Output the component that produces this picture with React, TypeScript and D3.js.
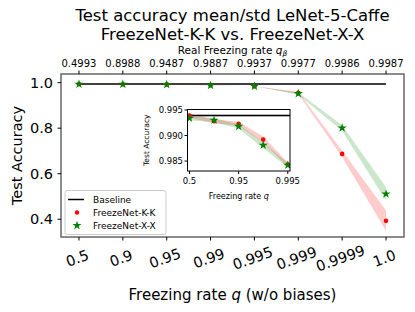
import * as d3 from 'd3'

const qLabels = ['0.5', '0.9', '0.95', '0.99', '0.995', '0.999', '0.9999', '1.0']
const qBetaLabels = ['0.4993', '0.8988', '0.9487', '0.9887', '0.9937', '0.9977', '0.9986', '0.9987']
const baseline = 0.9939
const baselineStd = 0.0002
const kkMean = [0.9939, 0.9928, 0.9923, 0.9892, 0.9843, 0.955, 0.687, 0.393]
const kkStd = [0.0004, 0.0004, 0.0004, 0.0006, 0.0004, 0.005, 0.014, 0.045]
const xxMean = [0.9934, 0.993, 0.9918, 0.9881, 0.9842, 0.952, 0.801, 0.511]
const xxStd = [0.0004, 0.0004, 0.0004, 0.0006, 0.0004, 0.005, 0.012, 0.03]
const mainYTicks = [0.4, 0.6, 0.8, 1.0]
const insetYTicks = [0.985, 0.99, 0.995]
const insetXTicks = [0, 2, 4]

const font = 'DejaVu Sans, sans-serif'
const idx = qLabels.map((_, i) => i)

export default function App() {
  const m = { left: 61, right: 404, top: 74, bottom: 237 }
  const x = d3.scaleLinear().domain([-0.41, 7.41]).range([m.left, m.right])
  const y = d3.scaleLinear().domain([0.322, 1.038]).range([m.bottom, m.top])

  const ins = { left: 187.5, right: 290, top: 109.5, bottom: 171 }
  const xi = d3.scaleLinear().domain([-0.08, 4.09]).range([ins.left, ins.right])
  const yi = d3.scaleLinear().domain([0.98305, 0.9951]).range([ins.bottom, ins.top])

  const band = (sx: any, sy: any, mean: number[], std: number[], ids: number[]) =>
    d3.area<number>()
      .x(i => sx(i))
      .y0(i => sy(mean[i] - std[i]))
      .y1(i => sy(mean[i] + std[i]))(ids) as string
  const star = d3.symbol(d3.symbolStar, 26)() as string
  const insIdx = [0, 1, 2, 3, 4]

  const series = (sx: any, sy: any, ids: number[]) => (
    <g>
      <path d={band(sx, sy, kkMean, kkStd, ids)} fill="red" fillOpacity={0.2} />
      <path d={band(sx, sy, xxMean, xxStd, ids)} fill="green" fillOpacity={0.2} />
      {ids.map(i => (
        <circle key={'k' + i} cx={sx(i)} cy={sy(kkMean[i])} r={2.3} fill="red" />
      ))}
      {ids.map(i => (
        <path key={'x' + i} d={star} transform={`translate(${sx(i)},${sy(xxMean[i])})`} fill="green" />
      ))}
    </g>
  )

  return (
    <svg width={415} height={312} style={{ position: 'absolute', left: 0, top: 0 }} fontFamily={font}>
      <defs>
        <clipPath id="mainClip">
          <rect x={m.left} y={m.top} width={m.right - m.left} height={m.bottom - m.top} />
        </clipPath>
        <clipPath id="insClip">
          <rect x={ins.left} y={ins.top} width={ins.right - ins.left} height={ins.bottom - ins.top} />
        </clipPath>
      </defs>
      <rect width={415} height={312} fill="white" />

      <text x={232.5} y={21} textAnchor="middle" fontSize={16.5}>Test accuracy mean/std LeNet-5-Caffe</text>
      <text x={232.5} y={40} textAnchor="middle" fontSize={16.5}>FreezeNet-K-K vs. FreezeNet-X-X</text>

      {/* main plot */}
      <g clipPath="url(#mainClip)">
        <line x1={x(0)} x2={x(7)} y1={y(baseline)} y2={y(baseline)} stroke="black" strokeWidth={1.5} />
        {series(x, y, idx)}
      </g>
      <rect x={m.left} y={m.top} width={m.right - m.left} height={m.bottom - m.top} fill="none" stroke="#666" strokeWidth={1.5} />

      {/* bottom axis */}
      {idx.map(i => (
        <g key={'b' + i}>
          <line x1={x(i)} x2={x(i)} y1={m.bottom} y2={m.bottom + 3.5} stroke="black" />
          <text transform={`translate(${x(i)},${m.bottom + 26}) rotate(-20)`} textAnchor="middle" fontSize={14.5}>{qLabels[i]}</text>
        </g>
      ))}
      <text x={232.5} y={300} textAnchor="middle" fontSize={15}>
        Freezing rate <tspan fontStyle="italic">q</tspan> (w/o biases)
      </text>

      {/* top axis */}
      {idx.map(i => (
        <g key={'t' + i}>
          <line x1={x(i)} x2={x(i)} y1={m.top} y2={m.top - 3.5} stroke="black" />
          <text x={x(i)} y={m.top - 7} textAnchor="middle" fontSize={10}>{qBetaLabels[i]}</text>
        </g>
      ))}
      <text x={232.5} y={54} textAnchor="middle" fontSize={10.5}>
        Real Freezing rate <tspan fontStyle="italic">q</tspan><tspan fontStyle="italic" fontSize={7.5} dy={2}>β</tspan>
      </text>

      {/* left axis */}
      {mainYTicks.map(t => (
        <g key={'y' + t}>
          <line x1={m.left} x2={m.left - 3.5} y1={y(t)} y2={y(t)} stroke="black" />
          <text x={m.left - 8} y={y(t)} dy="0.35em" textAnchor="end" fontSize={14.5}>{t.toFixed(1)}</text>
        </g>
      ))}
      <text transform={`translate(21.5,${(m.top + m.bottom) / 2}) rotate(-90)`} textAnchor="middle" fontSize={14.5}>Test Accuracy</text>

      {/* legend */}
      <g>
        <rect x={65} y={190.5} width={101} height={44} rx={2} fill="white" fillOpacity={0.8} stroke="#ccc" />
        <line x1={68} x2={84} y1={199.5} y2={199.5} stroke="black" strokeWidth={1.5} />
        <text x={93} y={199.5} dy="0.35em" fontSize={9}>Baseline</text>
        <circle cx={77} cy={212.5} r={2.2} fill="red" />
        <text x={93} y={212.5} dy="0.35em" fontSize={9}>FreezeNet-K-K</text>
        <path d={star} transform="translate(77,225.5)" fill="green" />
        <text x={93} y={225.5} dy="0.35em" fontSize={9}>FreezeNet-X-X</text>
      </g>

      {/* inset */}
      <rect x={ins.left} y={ins.top} width={ins.right - ins.left} height={ins.bottom - ins.top} fill="white" />
      <g clipPath="url(#insClip)">
        <rect x={ins.left} y={yi(baseline + baselineStd)} width={ins.right - ins.left}
          height={yi(baseline - baselineStd) - yi(baseline + baselineStd)} fill="#bbb" fillOpacity={0.5} />
        <line x1={xi(0)} x2={xi(7)} y1={yi(baseline)} y2={yi(baseline)} stroke="black" strokeWidth={1.5} />
        {series(xi, yi, insIdx)}
      </g>
      <rect x={ins.left} y={ins.top} width={ins.right - ins.left} height={ins.bottom - ins.top} fill="none" stroke="black" strokeWidth={1} />
      {insetYTicks.map(t => (
        <g key={'iy' + t}>
          <line x1={ins.left} x2={ins.left - 3} y1={yi(t)} y2={yi(t)} stroke="black" />
          <text x={ins.left - 4.5} y={yi(t)} dy="0.35em" textAnchor="end" fontSize={8.5}>{t.toFixed(3)}</text>
        </g>
      ))}
      {insetXTicks.map(t => (
        <g key={'ix' + t}>
          <line x1={xi(t)} x2={xi(t)} y1={ins.bottom} y2={ins.bottom + 3} stroke="black" />
          <text x={xi(t)} y={ins.bottom + 13} textAnchor="middle" fontSize={8.5}>{qLabels[t]}</text>
        </g>
      ))}
      <text x={(ins.left + ins.right) / 2} y={ins.bottom + 28} textAnchor="middle" fontSize={8}>
        Freezing rate <tspan fontStyle="italic">q</tspan>
      </text>
      <text transform={`translate(149,${(ins.top + ins.bottom) / 2}) rotate(-90)`} textAnchor="middle" fontSize={7.5}>Test Accuracy</text>
    </svg>
  )
}
